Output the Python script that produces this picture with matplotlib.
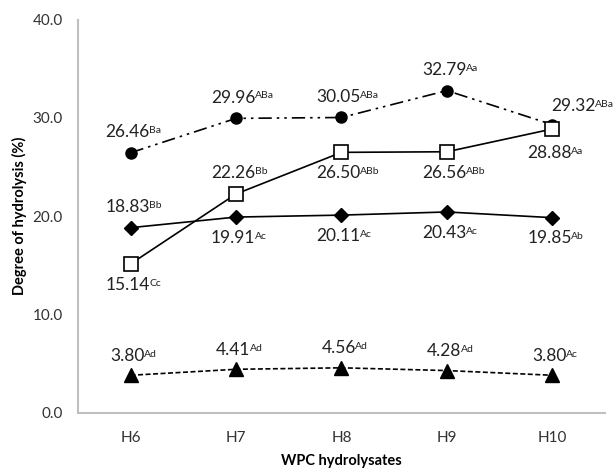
import matplotlib
matplotlib.use("Agg")
import matplotlib.pyplot as plt

plt.rcParams['font.family'] = ['Lato', 'DejaVu Sans']

categories = ["H6", "H7", "H8", "H9", "H10"]

# four hydrolysis series (values and significance letters)
circle_vals = [26.46, 29.96, 30.05, 32.79, 29.32]
circle_sups = ["Ba", "ABa", "ABa", "Aa", "ABa"]
square_vals = [15.14, 22.26, 26.50, 26.56, 28.88]
square_sups = ["Cc", "Bb", "ABb", "ABb", "Aa"]
diamond_vals = [18.83, 19.91, 20.11, 20.43, 19.85]
diamond_sups = ["Bb", "Ac", "Ac", "Ac", "Ab"]
triangle_vals = [3.80, 4.41, 4.56, 4.28, 3.80]
triangle_sups = ["Ad", "Ad", "Ad", "Ad", "Ac"]

yticks = [0, 10, 20, 30, 40]

fig = plt.figure(figsize=(6.13, 4.71), dpi=100)
ax = fig.add_axes([0.127, 0.124, 0.86, 0.834])
x = list(range(len(categories)))

ax.plot(x, circle_vals, color='black', lw=1.2, dashes=(8, 3, 1.5, 3, 1.5, 3),
        marker='o', ms=8, mfc='black', zorder=3)
ax.plot(x, diamond_vals, color='black', lw=1.2, marker='D', ms=7.5,
        mfc='black', zorder=3)
ax.plot(x, square_vals, color='black', lw=1.2, marker='s', ms=9.5,
        mfc='white', mew=1.2, zorder=4)
ax.plot(x, triangle_vals, color='black', lw=1.2, dashes=(3, 1.5),
        marker='^', ms=9.5, mfc='black', zorder=3)


def label(xi, yi, val, sup, dy, dx=-2):
    t = ax.annotate(f"{val:.2f}", xy=(xi, yi), xytext=(dx, dy),
                    textcoords='offset points', ha='center', va='center',
                    fontsize=12.5, color='#222222')
    ax.annotate(sup, xy=(1.0, 0.88), xycoords=t, xytext=(-0.5, 0),
                textcoords='offset points', ha='left', va='top',
                fontsize=7.5, color='#222222')


for i in x:
    if i == 4:
        label(i, circle_vals[i], circle_vals[i], circle_sups[i], 13.5, dx=15)
    else:
        label(i, circle_vals[i], circle_vals[i], circle_sups[i], 15)
    label(i, triangle_vals[i], triangle_vals[i], triangle_sups[i], 14)

# square labels: H7 above, the rest below
for i in x:
    dy = 15 if i == 1 else -15
    if i == 4:
        dy = -17
    label(i, square_vals[i], square_vals[i], square_sups[i], dy)

# diamond labels: H6 above, the rest below
for i in x:
    dy = 15 if i == 0 else -15
    label(i, diamond_vals[i], diamond_vals[i], diamond_sups[i], dy)

ax.set_xlim(-0.5, len(categories) - 0.5)
ax.set_ylim(0, 40)
ax.set_xticks(x)
ax.set_xticklabels(categories)
ax.set_yticks(yticks)
ax.set_yticklabels([f"{v:.1f}" for v in yticks])
ax.tick_params(axis='both', length=0, labelsize=11, colors='#333333')
ax.tick_params(axis='x', pad=13)
ax.tick_params(axis='y', pad=11)

for side in ['top', 'right']:
    ax.spines[side].set_visible(False)
for side in ['left', 'bottom']:
    ax.spines[side].set_color('#bfbfbf')
    ax.spines[side].set_linewidth(1.5)

ax.set_xlabel("WPC hydrolysates", fontsize=10.5, fontweight='bold', labelpad=7)
ax.set_ylabel("Degree of hydrolysis (%)", fontsize=10.5, fontweight='bold', labelpad=4)

fig.savefig("out.png", dpi=100)
